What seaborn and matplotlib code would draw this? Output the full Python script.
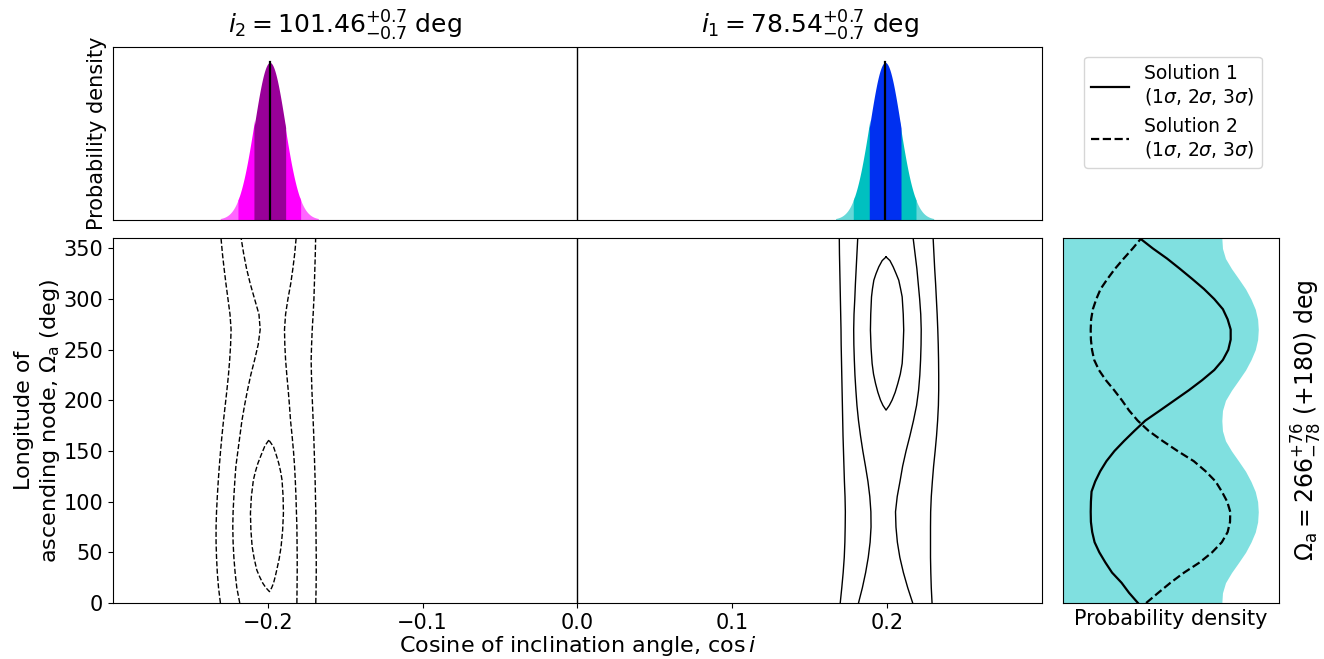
import numpy as np
import matplotlib
matplotlib.use("Agg")
import matplotlib.pyplot as plt
import seaborn as sns
from matplotlib.lines import Line2D

# --- top panel: inclination posteriors in cos i ---
incl_titles = [r"$i_2 = 101.46^{+0.7}_{-0.7}$ deg", r"$i_1 = 78.54^{+0.7}_{-0.7}$ deg"]
title_pos = [-0.15, 0.15]
cos_centre = [-0.1987, 0.1987]
cos_sigma = [0.0099, 0.0099]
band_colors = [["#990099", "#ff00ff", "#ff66ff"],
               ["#0030f0", "#00c0c0", "#66d8d8"]]

# --- main panel: contour lines (cos i vs Omega) ---
om_grid = [0, 15, 30, 45, 60, 75, 90, 105, 120, 135, 150, 165, 180,
           195, 210, 225, 240, 255, 270, 285, 300, 315, 330, 345, 360]
# solution 1 (solid), open contours
sol1_a = [0.1697, 0.1707, 0.1716, 0.1723, 0.1727, 0.1729, 0.1730, 0.1728, 0.1724, 0.1721, 0.1718, 0.1715, 0.1713,
          0.1711, 0.1709, 0.1707, 0.1705, 0.1703, 0.1702, 0.1700, 0.1698, 0.1696, 0.1694, 0.1692, 0.1691]
sol1_b = [0.1815, 0.1840, 0.1861, 0.1878, 0.1890, 0.1896, 0.1895, 0.1888, 0.1876, 0.1860, 0.1843, 0.1828, 0.1815,
          0.1805, 0.1798, 0.1792, 0.1788, 0.1785, 0.1784, 0.1786, 0.1791, 0.1795, 0.1800, 0.1805, 0.1810]
sol1_c = [0.2165, 0.2133, 0.2105, 0.2082, 0.2066, 0.2057, 0.2054, 0.2065, 0.2083, 0.2100, 0.2122, 0.2147, 0.2170,
          0.2190, 0.2203, 0.2211, 0.2216, 0.2219, 0.2220, 0.2217, 0.2210, 0.2201, 0.2192, 0.2180, 0.2168]
sol1_d = [0.2290, 0.2285, 0.2282, 0.2280, 0.2280, 0.2280, 0.2281, 0.2285, 0.2292, 0.2300, 0.2310, 0.2319, 0.2326,
          0.2331, 0.2333, 0.2333, 0.2332, 0.2330, 0.2327, 0.2323, 0.2318, 0.2313, 0.2307, 0.2302, 0.2297]
# solution 2 (dashed), open contours
sol2_a = [-0.2306, -0.2318, -0.2326, -0.2331, -0.2334, -0.2334, -0.2331, -0.2326, -0.2320, -0.2313, -0.2305, -0.2296, -0.2286,
          -0.2275, -0.2264, -0.2254, -0.2246, -0.2240, -0.2237, -0.2244, -0.2257, -0.2270, -0.2282, -0.2293, -0.2302]
sol2_b = [-0.2181, -0.2200, -0.2211, -0.2219, -0.2224, -0.2226, -0.2224, -0.2219, -0.2213, -0.2206, -0.2193, -0.2180, -0.2167,
          -0.2150, -0.2131, -0.2110, -0.2085, -0.2062, -0.2049, -0.2057, -0.2085, -0.2113, -0.2137, -0.2156, -0.2172]
sol2_c = [-0.1812, -0.1811, -0.1810, -0.1810, -0.1811, -0.1812, -0.1815, -0.1818, -0.1822, -0.1827, -0.1834, -0.1843, -0.1853,
          -0.1860, -0.1868, -0.1877, -0.1885, -0.1890, -0.1892, -0.1885, -0.1870, -0.1852, -0.1838, -0.1826, -0.1817]
sol2_d = [-0.1690, -0.1688, -0.1687, -0.1687, -0.1688, -0.1689, -0.1690, -0.1692, -0.1694, -0.1697, -0.1700, -0.1703, -0.1707,
          -0.1711, -0.1715, -0.1718, -0.1720, -0.1717, -0.1713, -0.1707, -0.1702, -0.1699, -0.1696, -0.1693, -0.1691]

# closed 1-sigma contours: Omega from top to bottom, left and right edge in cos i
ell1_om = [341.6, 338, 331.8, 325, 318.6, 310, 302.2, 285, 269.3, 252, 236.4, 226, 216.7, 208, 200.3, 195, 190.4]
ell1_left = [0.1993, 0.1968, 0.1946, 0.1928, 0.1914, 0.1905, 0.1899, 0.1894, 0.1892, 0.1896, 0.1903, 0.1912, 0.1925,
             0.1940, 0.1957, 0.1973, 0.1993]
ell1_right = [0.1993, 0.2018, 0.2039, 0.2058, 0.2075, 0.2087, 0.2097, 0.2104, 0.2107, 0.2103, 0.2097, 0.2085, 0.2069,
              0.2052, 0.2032, 0.2014, 0.1993]
ell2_om = [160.8, 157.5, 154.2, 146, 137.8, 129.6, 121.4, 105, 88.5, 72, 55.6, 44, 32.6, 26, 19.5, 15, 11.2]
ell2_left = [-0.1993, -0.2008, -0.2021, -0.2043, -0.2064, -0.2080, -0.2093, -0.2106, -0.2112, -0.2109, -0.2101, -0.2088,
             -0.2071, -0.2053, -0.2032, -0.2012, -0.1989]
ell2_right = [-0.1993, -0.1978, -0.1963, -0.1945, -0.1929, -0.1917, -0.1908, -0.1901, -0.1899, -0.1904, -0.1914, -0.1926,
              -0.1942, -0.1952, -0.1963, -0.1975, -0.1989]

# --- right panel: Omega_a marginal (arbitrary density units) ---
om_fine = list(range(0, 361, 10))
om_pdf = [0.735, 0.738, 0.752, 0.780, 0.813, 0.845, 0.870, 0.890, 0.901, 0.904, 0.901, 0.890, 0.870, 0.845, 0.813,
          0.780, 0.752, 0.738, 0.735, 0.738, 0.752, 0.780, 0.813, 0.845, 0.870, 0.890, 0.901, 0.904, 0.901, 0.890,
          0.870, 0.845, 0.813, 0.780, 0.752, 0.738, 0.735]
om_sol1 = [0.346, 0.305, 0.270, 0.226, 0.195, 0.167, 0.145, 0.134, 0.128, 0.127, 0.128, 0.131, 0.148, 0.171, 0.200,
           0.237, 0.282, 0.330, 0.380, 0.448, 0.515, 0.582, 0.644, 0.700, 0.740, 0.765, 0.776, 0.776, 0.762, 0.740,
           0.700, 0.652, 0.597, 0.540, 0.481, 0.415, 0.355]
om_sol2 = [0.384, 0.440, 0.497, 0.560, 0.632, 0.690, 0.735, 0.762, 0.773, 0.774, 0.760, 0.735, 0.706, 0.660, 0.605,
           0.530, 0.460, 0.395, 0.345, 0.305, 0.272, 0.236, 0.197, 0.165, 0.143, 0.133, 0.128, 0.127, 0.129, 0.137,
           0.153, 0.173, 0.205, 0.240, 0.280, 0.322, 0.361]

xlim = (-0.3, 0.3)
fs = 15

fig = plt.figure(figsize=(13.24, 6.59), dpi=100)
ax_top = fig.add_axes([0.0853, 0.6662, 0.7017, 0.2630])
ax_main = fig.add_axes([0.0853, 0.0850, 0.7017, 0.5534])
ax_om = fig.add_axes([0.8031, 0.0850, 0.1629, 0.5534])

# top panel
peak = 0
for mu, sig, cols, title, tx in zip(cos_centre, cos_sigma, band_colors, incl_titles, title_pos):
    xx = np.linspace(mu - 3.2 * sig, mu + 3.2 * sig, 400)
    pdf = np.exp(-0.5 * ((xx - mu) / sig) ** 2) / (sig * np.sqrt(2 * np.pi))
    peak = max(peak, pdf.max())
    d = np.abs(xx - mu) / sig
    ax_top.fill_between(xx, 0, pdf, where=d >= 1.95, color=cols[2], lw=0)
    ax_top.fill_between(xx, 0, pdf, where=(d <= 2.05) & (d >= 0.95), color=cols[1], lw=0)
    ax_top.fill_between(xx, 0, pdf, where=d <= 1.05, color=cols[0], lw=0)
    ax_top.plot([mu, mu], [0, pdf.max()], color="k", lw=1.6)
    ax_top.text(tx, 1.02, title, transform=ax_top.get_xaxis_transform(),
                ha="center", va="bottom", fontsize=18)
ax_top.axvline(0, color="k", lw=1)
ax_top.set_xlim(xlim)
ax_top.set_ylim(0, 1.1 * peak)
ax_top.set_xticks([])
ax_top.set_yticks([])
ax_top.set_ylabel("Probability density", fontsize=fs)

# main panel
for line in [sol1_a, sol1_b, sol1_c, sol1_d]:
    sns.lineplot(x=line, y=om_grid, sort=False, estimator=None, color="k", lw=1, ax=ax_main)
for line in [sol2_a, sol2_b, sol2_c, sol2_d]:
    sns.lineplot(x=line, y=om_grid, sort=False, estimator=None, color="k", lw=1,
                 linestyle="--", ax=ax_main)
sns.lineplot(x=ell1_left + ell1_right[::-1], y=ell1_om + ell1_om[::-1],
             sort=False, estimator=None, color="k", lw=1, ax=ax_main)
sns.lineplot(x=ell2_left + ell2_right[::-1], y=ell2_om + ell2_om[::-1],
             sort=False, estimator=None, color="k", lw=1, linestyle="--", ax=ax_main)
ax_main.axvline(0, color="k", lw=1)
ax_main.set_xlim(xlim)
ax_main.set_ylim(0, 360)
ax_main.set_xticks([-0.2, -0.1, 0.0, 0.1, 0.2])
ax_main.set_yticks(range(0, 351, 50))
ax_main.tick_params(labelsize=fs)
ax_main.set_xlabel(r"Cosine of inclination angle, $\cos i$", fontsize=16, labelpad=1)
ax_main.set_ylabel("Longitude of\n" + r"ascending node, $\Omega_{\rm a}$ (deg)", fontsize=16,
                   labelpad=1)

# right panel
ax_om.fill_betweenx(om_fine, 0, om_pdf, color="#80e0e0", lw=0)
sns.lineplot(x=om_sol1, y=om_fine, sort=False, estimator=None, color="k", lw=1.6, ax=ax_om)
sns.lineplot(x=om_sol2, y=om_fine, sort=False, estimator=None, color="k", lw=1.6,
             linestyle="--", ax=ax_om)
ax_om.set_xlim(0, 1)
ax_om.set_ylim(0, 360)
ax_om.set_xticks([])
ax_om.set_yticks([])
ax_om.set_xlabel("Probability density", fontsize=fs)
ax_om.yaxis.set_label_position("right")
ax_om.set_ylabel(r"$\Omega_{\rm a} = 266^{+76}_{-78}$ (+180) deg", fontsize=17, labelpad=8)

handles = [Line2D([], [], color="k", lw=1.6), Line2D([], [], color="k", lw=1.6, ls="--")]
labels = ["Solution 1\n" + r"($1\sigma$, $2\sigma$, $3\sigma$)",
          "Solution 2\n" + r"($1\sigma$, $2\sigma$, $3\sigma$)"]
fig.legend(handles, labels, loc="upper left", bbox_to_anchor=(0.8187, 0.914),
           borderaxespad=0, fontsize=13.5, handlelength=2.0, frameon=True)

fig.savefig("out.png", dpi=100)
